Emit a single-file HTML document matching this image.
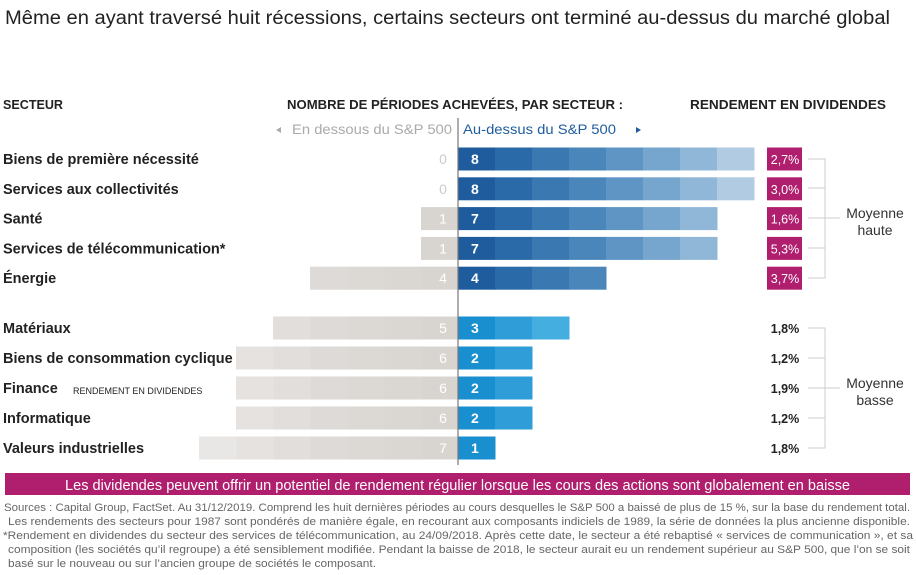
<!DOCTYPE html>
<html><head><meta charset="utf-8"><style>
html,body{margin:0;padding:0;background:#fff;}
svg{display:block;font-family:"Liberation Sans",sans-serif;}
</style></head><body>
<svg id="c" width="916" height="575" viewBox="0 0 916 575">
<text x="5" y="24" font-size="19" fill="#222" textLength="885" lengthAdjust="spacingAndGlyphs">Même en ayant traversé huit récessions, certains secteurs ont terminé au-dessus du marché global</text>
<text x="3" y="109" font-size="12.5" font-weight="bold" fill="#222" textLength="60" lengthAdjust="spacingAndGlyphs">SECTEUR</text>
<text x="287" y="109" font-size="12.5" font-weight="bold" fill="#222" textLength="336" lengthAdjust="spacingAndGlyphs">NOMBRE DE PÉRIODES ACHEVÉES, PAR SECTEUR :</text>
<text x="690" y="109" font-size="12.5" font-weight="bold" fill="#222" textLength="196" lengthAdjust="spacingAndGlyphs">RENDEMENT EN DIVIDENDES</text>
<path d="M276 130 L281 127 L281 133 Z" fill="#aaa"/>
<text x="292" y="134" font-size="13.5" fill="#aaa" textLength="160" lengthAdjust="spacingAndGlyphs">En dessous du S&amp;P 500</text>
<text x="463" y="134" font-size="13.5" fill="#1f5c9e" textLength="153" lengthAdjust="spacingAndGlyphs">Au-dessus du S&amp;P 500</text>
<path d="M636 127 L641 130 L636 133 Z" fill="#1f5c9e"/>
<g id="bars"></g>
<line x1="458" y1="118" x2="458" y2="465" stroke="#777" stroke-width="1.2"/>
<text x="73" y="394" font-size="9" fill="#222">RENDEMENT EN DIVIDENDES</text>
<g id="brackets" stroke="#ccc" stroke-width="1" fill="none">
<path d="M808 159 H825 V278 H808 M808 188 H825 M808 218 H840 M808 248 H825"/>
<path d="M808 328 H825 V448 H808 M808 358 H825 M808 388 H840 M808 418 H825"/>
</g>
<text x="875" y="218" font-size="14" fill="#333" text-anchor="middle"><tspan x="875">Moyenne</tspan><tspan x="875" dy="17">haute</tspan></text>
<text x="875" y="388" font-size="14" fill="#333" text-anchor="middle"><tspan x="875">Moyenne</tspan><tspan x="875" dy="17">basse</tspan></text>
<rect x="5" y="473" width="905" height="22" fill="#b01e6e"/>
<text x="65" y="490" font-size="15" fill="#fff" textLength="785" lengthAdjust="spacingAndGlyphs">Les dividendes peuvent offrir un potentiel de rendement régulier lorsque les cours des actions sont globalement en baisse</text>
<g font-size="11" fill="#666">
<text x="4" y="511" textLength="906" lengthAdjust="spacingAndGlyphs">Sources : Capital Group, FactSet. Au 31/12/2019. Comprend les huit dernières périodes au cours desquelles le S&amp;P 500 a baissé de plus de 15 %, sur la base du rendement total.</text>
<text x="8" y="525" textLength="902" lengthAdjust="spacingAndGlyphs">Les rendements des secteurs pour 1987 sont pondérés de manière égale, en recourant aux composants indiciels de 1989, la série de données la plus ancienne disponible.</text>
<text x="3" y="539" textLength="910" lengthAdjust="spacingAndGlyphs">*Rendement en dividendes du secteur des services de télécommunication, au 24/09/2018. Après cette date, le secteur a été rebaptisé « services de communication », et sa</text>
<text x="8" y="553" textLength="902" lengthAdjust="spacingAndGlyphs">composition (les sociétés qu’il regroupe)  a été sensiblement modifiée. Pendant la baisse de 2018, le secteur aurait eu un rendement supérieur au S&amp;P 500, que l’on se soit</text>
<text x="8" y="567" textLength="368" lengthAdjust="spacingAndGlyphs">basé sur le nouveau ou sur l’ancien groupe de sociétés le composant.</text>
</g>
</svg>
<script>
const sectors = ["Biens de première nécessité","Services aux collectivités","Santé","Services de télécommunication*","Énergie","Matériaux","Biens de consommation cyclique","Finance","Informatique","Valeurs industrielles"];
const aboveCounts = [8,8,7,7,4,3,2,2,2,1];
const belowCounts = [0,0,1,1,4,5,6,6,6,7];
const dividendYields = ["2,7%","3,0%","1,6%","5,3%","3,7%","1,8%","1,2%","1,9%","1,2%","1,8%"];
const highGroup = [true,true,true,true,true,false,false,false,false,false];

const NS="http://www.w3.org/2000/svg";
const g=document.getElementById('bars');
const x0=458, seg=37, bh=23;
function xs(v){return v*seg;}
function rowY(i){return i<5 ? 159+i*29.8 : 328+(i-5)*30;}
const darkBlues=["#1f5c9e","#2b6aa8","#3a78b2","#4b86bb","#5f95c4","#76a6ce","#90b7d8","#b0cbe2"];
const lightBlues=["#1a8fd0","#2e9dd8","#45aee0"];
const greys=["#d8d4d0","#dad6d2","#dcd8d4","#dedad7","#e1dedb","#e5e2df","#e9e7e5","#eeecea"];
function mk(tag,attrs){const e=document.createElementNS(NS,tag);for(const k in attrs)e.setAttribute(k,attrs[k]);return e;}
sectors.forEach((s,i)=>{
  const cy=rowY(i);
  for(let k=0;k<aboveCounts[i];k++){
    const r=mk('rect',{x:x0+xs(k),y:cy-bh/2,width:seg+0.5,height:bh,fill:(i<5?darkBlues:lightBlues)[Math.min(k,(i<5?7:2))]});
    
    
    g.appendChild(r);
  }
  for(let k=0;k<belowCounts[i];k++){
    const r=mk('rect',{x:x0-xs(k+1),y:cy-bh/2,width:seg+0.5,height:bh,fill:greys[Math.min(k,7)]});
    
    
    g.appendChild(r);
  }
  const t=mk('text',{x:3,y:cy+5,'font-size':14.5,'font-weight':'bold',fill:'#222'});
  t.textContent=s;
  
  
  g.appendChild(t);
  const a=mk('text',{x:x0+13,y:cy+5,'font-size':14,'font-weight':'bold',fill:'#fff'});
  a.textContent=aboveCounts[i];
  
  
  g.appendChild(a);
  const b=mk('text',{x:x0-15,y:cy+5,'font-size':14,fill:belowCounts[i]?'#fff':'#ccc','text-anchor':'middle'});
  b.textContent=belowCounts[i];
  
  
  g.appendChild(b);
  if(highGroup[i]){
    const r=mk('rect',{x:767,y:cy-bh/2,width:35,height:bh,fill:'#b01e6e'});
    
    
    g.appendChild(r);
  }
  const d=mk('text',{x:785,y:cy+5,'font-size':12.5,fill:highGroup[i]?'#fff':'#222','text-anchor':'middle','font-weight':highGroup[i]?'normal':'bold'});
  d.textContent=dividendYields[i];
  
  
  g.appendChild(d);
});
</script>
</body></html>
